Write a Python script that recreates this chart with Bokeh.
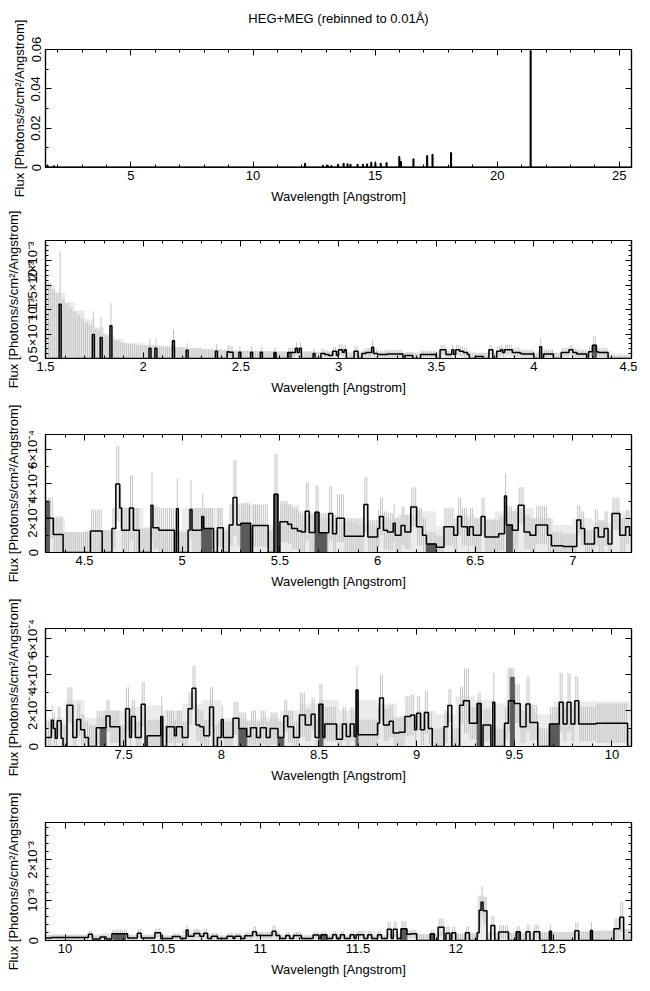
import numpy as np
from bokeh.plotting import figure
from bokeh.layouts import column
from bokeh.models import FixedTicker, CustomJSTickFormatter, LinearAxis, Range1d, Title
from bokeh.embed import file_html
from bokeh.resources import INLINE

TITLE = "HEG+MEG (rebinned to 0.01Å)"
X_LABEL = "Wavelength [Angstrom]"
Y_LABEL = "Flux [Photons/s/cm²/Angstrom]"
BIN = 0.01  # Angstrom

# All flux values are in units of 1e-4 photons/s/cm^2/Angstrom.

# ---------------- panel 1 : full range, strongest lines ----------------
p1_line_x = [1.57, 1.84, 12.12, 12.85, 13.05, 13.20, 13.47, 13.70, 13.86, 13.98, 14.27, 14.49,
             14.66, 14.83, 15.00, 15.22, 15.46, 15.98, 16.05, 16.56, 17.12, 17.34, 18.10, 21.36]
p1_line_y = [11, 7, 20, 10, 10, 9, 15, 20, 18, 15, 15, 15,
             17, 25, 22, 20, 24, 55, 29, 43, 60, 66, 75, 593]
p1_xticks = [5, 10, 15, 20, 25]
p1_yticks = [0, 200, 400, 600]
p1_ylabels = ["0", "0.02", "0.04", "0.06"]

# ---------------- panel 2 : 1.5 - 4.5 A  (start, flux, error top) ----------------
p2_bins = [(1.50, 0, 15.5), (1.53, 0, 14.2), (1.55, 0, 13.4), (1.57, 11.1, 22.0), (1.58, 0, 12.2),
           (1.60, 0, 11.3), (1.62, 0, 10.4), (1.64, 0, 9.6), (1.66, 0, 8.9), (1.68, 0, 8.2),
           (1.70, 0, 7.5), (1.72, 0, 6.9), (1.74, 4.9, 9.6), (1.75, 0, 6.1), (1.77, 0, 5.6),
           (1.78, 4.3, 8.4), (1.79, 0, 5.0), (1.81, 0, 4.5), (1.83, 6.7, 11.3), (1.84, 0, 4.0),
           (1.86, 0, 3.6), (1.88, 0, 3.3), (1.91, 0, 3.0), (1.95, 0, 2.8), (2.03, 2.1, 4.1),
           (2.04, 0, 2.7), (2.06, 2.1, 4.1), (2.07, 0, 2.5), (2.15, 3.6, 6.0), (2.16, 0, 2.3),
           (2.22, 1.7, 3.2), (2.23, 0, 2.1), (2.30, 0, 1.9), (2.37, 1.5, 2.9), (2.38, 0, 1.8),
           (2.43, 1.4, 2.7), (2.44, 1.3, 2.6), (2.46, 0, 1.6), (2.49, 1.3, 2.5), (2.50, 0, 1.6),
           (2.55, 1.3, 2.5), (2.56, 0, 1.5), (2.60, 1.3, 2.4), (2.61, 0, 1.5), (2.67, 1.2, 2.3),
           (2.68, 0, 1.4), (2.74, 1.2, 2.2), (2.78, 2.1, 3.3), (2.79, 1.2, 2.2), (2.80, 2.1, 3.3),
           (2.81, 0, 1.4), (2.87, 1.0, 2.0), (2.88, 0, 1.3), (2.91, 1.0, 2.0), (2.93, 0.8, 1.7),
           (2.95, 0.6, 1.4), (2.97, 1.5, 2.4), (2.99, 0.6, 1.4), (3.00, 1.8, 2.9), (3.02, 1.3, 2.3),
           (3.03, 1.8, 2.9), (3.04, 0, 1.2), (3.08, 1.5, 2.5), (3.10, 0, 1.2), (3.12, 1.0, 1.9),
           (3.14, 1.2, 2.2), (3.17, 2.3, 3.8), (3.18, 1.0, 1.9), (3.20, 0.8, 1.6), (3.25, 0.9, 1.8),
           (3.33, 0, 1.1), (3.34, 0.6, 1.3), (3.38, 0, 1.1), (3.42, 0.8, 1.6), (3.50, 0, 1.1),
           (3.52, 1.8, 2.8), (3.55, 0.8, 1.6), (3.58, 1.8, 2.8), (3.59, 0.8, 1.6), (3.60, 1.8, 2.8),
           (3.62, 1.5, 2.5), (3.64, 1.2, 2.2), (3.66, 0.8, 1.6), (3.67, 0, 1.1), (3.70, 0.4, 1.1),
           (3.74, 0, 1.1), (3.77, 1.8, 2.8), (3.79, 0, 1.1), (3.81, 1.5, 2.5), (3.83, 1.8, 2.8),
           (3.84, 1.2, 2.2), (3.85, 1.8, 2.8), (3.87, 1.8, 2.8), (3.89, 1.2, 2.2), (3.93, 1.0, 1.9),
           (3.94, 0.9, 1.8), (4.00, 0, 1.1), (4.03, 2.4, 4.0), (4.04, 0, 1.1), (4.05, 0.9, 1.8),
           (4.10, 0, 1.1), (4.14, 1.2, 2.2), (4.18, 1.8, 2.8), (4.20, 1.2, 2.2), (4.22, 0.9, 1.8),
           (4.27, 0, 1.1), (4.28, 1.4, 2.4), (4.30, 2.7, 4.5), (4.32, 1.4, 2.4), (4.33, 1.2, 2.2),
           (4.38, 0, 0.6)]
p2_meg = [(2.67, 2.68, 1.2), (2.74, 2.76, 1.0), (4.30, 4.32, 2.7)]
p2_env_x = [1.50, 1.55, 1.60, 1.65, 1.70, 1.75, 1.80, 1.85, 1.90, 2.0, 2.1, 2.2, 2.3, 2.4, 2.5, 2.6, 2.7,
            2.8, 2.9, 3.0, 3.1, 3.2, 3.3, 3.4, 3.5, 3.6, 3.7, 3.8, 3.9, 4.0, 4.1, 4.2, 4.3, 4.4]
p2_env_y = [15.0, 13.5, 11.5, 9.8, 8.0, 6.4, 5.0, 4.0, 3.2, 2.7, 2.4, 2.1, 1.9, 1.7, 1.6, 1.5, 1.5,
            1.5, 1.4, 1.4, 1.5, 1.3, 1.3, 1.3, 1.3, 1.5, 1.3, 1.5, 1.4, 1.5, 1.3, 1.4, 1.6, 1.0]
p2_xticks = [1.5, 2, 2.5, 3, 3.5, 4, 4.5]
p2_yticks = [0, 5, 10, 15, 20]
p2_ylabels = ["0", "5×10⁻⁴", "10⁻³", "1.5×10⁻³", "2×10⁻³"]

# ---------------- panel 3 : 4.3 - 7.3 A ----------------
p3_bins = [(4.30, 2.0, 3.2), (4.34, 1.05, 2.1), (4.39, 0, 1.2), (4.53, 1.26, 2.5), (4.59, 0, 1.3),
           (4.64, 1.4, 2.6), (4.66, 4.0, 6.2), (4.68, 2.6, 3.8), (4.69, 1.3, 2.6), (4.73, 2.6, 4.5),
           (4.75, 1.3, 2.6), (4.78, 0, 1.4), (4.84, 2.75, 4.7), (4.85, 1.45, 2.7), (4.88, 1.3, 2.6),
           (4.96, 0, 1.2), (4.97, 2.55, 4.3), (4.98, 0, 1.2), (5.03, 1.3, 2.6), (5.04, 2.5, 4.2),
           (5.05, 1.3, 2.6), (5.10, 2.1, 3.4), (5.11, 1.4, 2.6), (5.16, 0, 1.3), (5.18, 1.45, 2.6),
           (5.21, 0, 1.3), (5.24, 1.6, 2.8), (5.26, 3.2, 5.4), (5.28, 1.6, 2.8), (5.30, 1.7, 2.9),
           (5.35, 0, 1.3), (5.36, 1.57, 2.8), (5.44, 0, 1.3), (5.47, 3.4, 5.75), (5.49, 0, 1.3),
           (5.50, 1.8, 3.0), (5.52, 1.8, 3.0), (5.54, 1.65, 2.8), (5.56, 1.4, 2.6), (5.59, 1.25, 2.4),
           (5.61, 1.2, 2.4), (5.63, 2.4, 4.1), (5.65, 1.16, 2.3), (5.68, 2.35, 3.9), (5.70, 1.15, 2.3),
           (5.75, 2.27, 3.85), (5.77, 1.1, 2.2), (5.79, 2.0, 3.4), (5.83, 0.95, 2.0), (5.93, 2.8, 4.4),
           (5.95, 0.9, 1.9), (6.00, 1.4, 2.5), (6.01, 2.1, 3.2), (6.03, 1.3, 2.4), (6.05, 1.2, 2.3),
           (6.08, 1.7, 2.8), (6.09, 1.0, 2.0), (6.12, 1.57, 2.7), (6.14, 1.2, 2.2), (6.17, 2.65, 3.8),
           (6.20, 1.5, 2.6), (6.23, 1.0, 2.0), (6.25, 0.5, 1.2), (6.30, 0.3, 1.0), (6.34, 1.5, 2.6),
           (6.39, 1.0, 2.0), (6.41, 2.1, 3.2), (6.43, 1.5, 2.6), (6.46, 1.0, 2.0), (6.47, 1.5, 2.6),
           (6.49, 1.0, 2.0), (6.53, 2.1, 3.2), (6.55, 0.9, 1.9), (6.62, 1.1, 2.1), (6.65, 3.3, 4.6),
           (6.66, 1.6, 2.7), (6.69, 1.3, 2.4), (6.72, 2.75, 3.8), (6.75, 1.2, 2.2), (6.78, 1.0, 2.0),
           (6.81, 1.6, 2.7), (6.84, 1.6, 2.7), (6.87, 1.0, 2.0), (6.89, 0.4, 1.2), (6.95, 0.35, 1.1),
           (7.02, 1.9, 2.75), (7.04, 1.4, 2.4), (7.06, 0.5, 1.3), (7.11, 1.45, 2.5), (7.13, 0.9, 1.9),
           (7.16, 1.4, 2.4), (7.18, 0.5, 1.3), (7.20, 2.27, 3.2), (7.24, 1.0, 2.0), (7.27, 1.5, 2.5),
           (7.29, 1.0, 2.0)]
p3_meg = [(4.30, 4.32, 3.0), (5.10, 5.11, 2.1), (5.11, 5.15, 1.4), (5.30, 5.35, 1.7), (5.47, 5.49, 3.4),
          (5.68, 5.70, 2.35), (5.70, 5.74, 1.15), (6.25, 6.30, 0.5), (6.66, 6.69, 1.6)]
p3_env_x = [4.3, 4.4, 4.5, 4.6, 4.7, 4.8, 4.9, 5.0, 5.1, 5.2, 5.3, 5.4, 5.5, 5.6, 5.7,
            5.8, 5.9, 6.0, 6.1, 6.2, 6.3, 6.4, 6.5, 6.6, 6.7, 6.8, 6.9, 7.0, 7.1, 7.2]
p3_env_y = [2.0, 1.2, 1.3, 1.3, 2.6, 1.5, 1.3, 2.6, 2.6, 1.5, 2.8, 1.6, 2.8, 2.2, 2.0,
            1.8, 1.6, 2.0, 2.2, 2.4, 1.5, 2.2, 2.0, 2.4, 2.6, 2.0, 1.6, 2.0, 1.8, 2.4]
p3_xticks = [4.5, 5, 5.5, 6, 6.5, 7]
p3_yticks = [0, 2, 4, 6]
p3_ylabels = ["0", "2×10⁻⁴", "4×10⁻⁴", "6×10⁻⁴"]

# ---------------- panel 4 : 7.1 - 10.1 A ----------------
p4_bins = [(7.10, 0.5, 1.4), (7.13, 1.46, 2.3), (7.14, 1.0, 1.9), (7.15, 0.46, 1.3), (7.16, 1.43, 2.2),
           (7.18, 0.46, 1.3), (7.19, 0, 1.2), (7.21, 2.3, 3.3), (7.24, 0.5, 1.4), (7.26, 1.5, 2.4),
           (7.28, 0.93, 1.8), (7.30, 0.5, 1.4), (7.32, 0, 1.2), (7.36, 1.05, 2.0), (7.41, 1.7, 2.6),
           (7.43, 1.1, 2.0), (7.48, 0, 1.2), (7.51, 2.1, 3.3), (7.53, 0.5, 1.4), (7.54, 1.67, 2.6),
           (7.56, 0.5, 1.4), (7.59, 2.35, 3.6), (7.61, 0, 1.2), (7.62, 0.6, 1.5), (7.69, 1.67, 2.8),
           (7.70, 0, 1.2), (7.72, 1.1, 2.0), (7.76, 0.6, 1.5), (7.77, 1.1, 2.0), (7.80, 0.5, 1.4),
           (7.83, 2.1, 3.0), (7.85, 3.25, 4.5), (7.87, 1.2, 2.1), (7.89, 1.1, 2.0), (7.91, 0.6, 1.5),
           (7.94, 2.2, 3.3), (7.96, 0, 1.2), (7.98, 0.5, 1.4), (8.00, 1.5, 2.3), (8.01, 0.5, 1.4),
           (8.06, 1.57, 2.5), (8.09, 1.0, 1.9), (8.13, 0.55, 1.4), (8.15, 1.05, 2.0), (8.18, 0.5, 1.4),
           (8.20, 1.05, 2.0), (8.23, 0.5, 1.4), (8.25, 1.0, 1.9), (8.29, 0.5, 1.4), (8.32, 1.7, 2.6),
           (8.34, 1.1, 2.0), (8.37, 0.5, 1.4), (8.40, 1.76, 3.0), (8.43, 1.2, 2.1), (8.46, 1.8, 2.7),
           (8.48, 0.5, 1.4), (8.50, 2.35, 3.5), (8.52, 0.5, 1.4), (8.53, 1.25, 2.2), (8.59, 0.4, 1.3),
           (8.62, 1.25, 2.2), (8.64, 0.55, 1.4), (8.66, 1.25, 2.2), (8.68, 0.55, 1.4), (8.69, 3.15, 4.5),
           (8.70, 0.65, 1.5), (8.80, 1.3, 2.2), (8.81, 2.7, 4.0), (8.83, 1.2, 2.1), (8.86, 1.4, 2.3),
           (8.88, 0.75, 1.6), (8.91, 0.8, 1.7), (8.94, 1.67, 2.8), (8.97, 1.76, 2.9), (8.99, 0.93, 1.8),
           (9.00, 1.85, 2.8), (9.02, 0.93, 1.8), (9.04, 1.9, 3.1), (9.06, 1.0, 1.9), (9.08, 0, 1.0),
           (9.14, 1.1, 2.0), (9.16, 2.28, 3.2), (9.18, 0, 1.0), (9.22, 2.3, 3.3), (9.24, 2.55, 4.35),
           (9.27, 1.3, 2.2), (9.31, 2.4, 3.0), (9.33, 0, 1.0), (9.34, 1.2, 2.1), (9.38, 0, 1.0),
           (9.39, 2.46, 4.1), (9.40, 0, 1.0), (9.45, 1.3, 2.2), (9.47, 2.55, 4.35), (9.50, 2.4, 3.5),
           (9.53, 1.1, 2.0), (9.56, 2.37, 3.9), (9.58, 1.33, 2.3), (9.62, 0, 1.0), (9.68, 1.25, 2.2),
           (9.73, 2.46, 4.1), (9.75, 1.25, 2.2), (9.77, 2.46, 4.1), (9.79, 1.25, 2.2), (9.81, 2.55, 3.9),
           (9.83, 1.25, 2.2), (9.92, 1.3, 2.4), (10.08, 0, 1.0)]
p4_meg = [(7.38, 7.41, 1.05), (7.69, 7.70, 1.67), (8.09, 8.13, 1.0), (8.29, 8.32, 0.5), (8.50, 8.52, 2.35),
          (8.69, 8.70, 3.15), (9.31, 9.33, 2.4), (9.48, 9.50, 3.85), (9.68, 9.73, 1.25)]
p4_env_x = [7.1, 7.2, 7.3, 7.4, 7.5, 7.6, 7.7, 7.8, 7.9, 8.0, 8.1, 8.2, 8.3, 8.4, 8.5, 8.6,
            8.7, 8.8, 8.9, 9.0, 9.1, 9.2, 9.3, 9.4, 9.46, 9.50, 9.6, 9.7, 9.8, 9.9, 10.0]
p4_env_y = [1.6, 2.6, 1.6, 2.0, 2.2, 2.3, 2.0, 2.4, 2.6, 1.6, 1.5, 1.6, 2.0, 2.4, 2.6, 2.0,
            2.6, 2.4, 1.6, 2.0, 1.8, 2.8, 2.6, 2.4, 4.35, 2.4, 1.8, 2.5, 2.5, 2.5, 2.5]
p4_xticks = [7.5, 8, 8.5, 9, 9.5, 10]
p4_yticks = [0, 2, 4, 6]
p4_ylabels = ["0", "2×10⁻⁴", "4×10⁻⁴", "6×10⁻⁴"]

# ---------------- panel 5 : 9.9 - 12.9 A ----------------
p5_bins = [(9.90, 0.6, 1.4), (9.93, 0.75, 1.5), (10.12, 1.55, 2.4), (10.14, 0.4, 1.2), (10.18, 0.9, 1.6),
           (10.21, 0.4, 1.2), (10.24, 1.65, 2.7), (10.32, 0.6, 1.3), (10.37, 1.8, 2.9), (10.39, 0.6, 1.3),
           (10.46, 1.9, 3.0), (10.49, 0.5, 1.2), (10.55, 1.0, 1.8), (10.59, 0.5, 1.2), (10.62, 2.6, 3.8),
           (10.63, 1.05, 1.9), (10.66, 1.75, 2.9), (10.69, 1.05, 1.9), (10.71, 1.8, 2.9), (10.73, 0.5, 1.2),
           (10.75, 1.05, 1.9), (10.78, 0.5, 1.2), (10.83, 1.05, 1.9), (10.86, 0.5, 1.2), (10.87, 1.05, 1.9),
           (10.90, 0.5, 1.2), (10.92, 1.15, 2.0), (10.96, 2.15, 3.5), (10.98, 1.25, 2.1), (11.06, 2.3, 3.75),
           (11.08, 1.25, 2.1), (11.10, 0.5, 1.2), (11.13, 1.25, 2.1), (11.15, 0.5, 1.2), (11.17, 1.25, 2.1),
           (11.21, 0.5, 1.2), (11.27, 1.35, 2.2), (11.30, 0.5, 1.2), (11.31, 1.4, 2.3), (11.34, 0.5, 1.2),
           (11.37, 1.4, 2.3), (11.39, 0.5, 1.2), (11.41, 1.4, 2.3), (11.43, 0.5, 1.2), (11.46, 1.4, 2.3),
           (11.48, 0.5, 1.2), (11.49, 1.4, 2.3), (11.53, 0.5, 1.2), (11.55, 1.4, 2.3), (11.57, 0.5, 1.2),
           (11.60, 1.4, 2.3), (11.62, 0.5, 1.2), (11.65, 2.8, 4.6), (11.67, 0.5, 1.2), (11.68, 2.8, 4.7),
           (11.70, 0.5, 1.2), (11.72, 2.9, 4.8), (11.75, 1.55, 2.5), (11.77, 1.65, 2.6), (11.80, 0, 1.6),
           (11.87, 1.65, 2.6), (11.89, 0, 1.6), (11.91, 3.3, 5.5), (11.94, 0, 1.6), (11.95, 1.8, 3.5),
           (11.97, 0, 1.6), (11.98, 1.9, 3.4), (12.00, 0, 1.7), (12.05, 1.9, 3.5), (12.07, 0, 1.8),
           (12.11, 1.9, 3.0), (12.12, 7.5, 11.25), (12.13, 9.5, 13.5), (12.14, 7.4, 10.8), (12.16, 0, 2.0),
           (12.18, 3.75, 6.2), (12.20, 0, 1.9), (12.22, 2.1, 3.8), (12.27, 0, 1.9), (12.31, 2.15, 3.6),
           (12.33, 0, 1.9), (12.36, 2.15, 4.0), (12.38, 0, 1.9), (12.40, 2.15, 3.9), (12.43, 0, 2.0),
           (12.48, 2.3, 3.9), (12.49, 0, 2.1), (12.61, 2.4, 4.5), (12.63, 0, 2.2), (12.69, 2.5, 4.6),
           (12.70, 0, 2.4), (12.81, 2.9, 5.5), (12.84, 5.8, 9.6), (12.86, 0, 2.8)]
p5_meg = [(10.25, 10.31, 1.65), (11.31, 11.34, 1.4), (11.72, 11.75, 2.9), (11.87, 11.89, 1.65),
          (12.31, 12.33, 2.15), (12.48, 12.49, 2.3), (12.69, 12.70, 2.5)]
p5_env_x = [9.9, 10.0, 10.1, 10.2, 10.3, 10.4, 10.5, 10.6, 10.7, 10.8, 10.9, 11.0, 11.1, 11.2, 11.3, 11.4,
            11.5, 11.6, 11.7, 11.8, 11.9, 12.0, 12.1, 12.11, 12.16, 12.2, 12.3, 12.4, 12.5, 12.6, 12.7, 12.8]
p5_env_y = [1.4, 1.3, 1.5, 2.0, 1.5, 1.6, 1.4, 2.6, 1.8, 1.4, 1.8, 2.0, 1.6, 1.5, 1.8, 1.5,
            2.5, 1.6, 2.0, 1.6, 2.2, 1.8, 2.0, 11.0, 2.0, 2.0, 2.1, 2.1, 2.2, 2.3, 2.5, 2.8]
p5_xticks = [10, 10.5, 11, 11.5, 12, 12.5]
p5_yticks = [0, 10, 20]
p5_ylabels = ["0", "10⁻³", "2×10⁻³"]

FONT = "Liberation Sans"
FS = "13px"
LIGHT = "#ebebeb"
ERRC = "#c4c4c4"
DARK = "#5a5a5a"


def style_axis(ax, standoff=4):
    ax.axis_line_color = "black"
    ax.axis_line_width = 1.2
    ax.major_tick_in = 6
    ax.major_tick_out = 0
    ax.minor_tick_in = 3
    ax.minor_tick_out = 0
    ax.major_tick_line_color = "black"
    ax.minor_tick_line_color = "black"
    ax.major_label_text_font = FONT
    ax.major_label_text_font_size = FS
    ax.major_label_text_color = "black"
    ax.axis_label_text_font = FONT
    ax.axis_label_text_font_size = FS
    ax.axis_label_text_font_style = "normal"
    ax.axis_label_text_color = "black"
    ax.major_label_standoff = standoff


def make_fig(xr, ytop, xticks, xminor, yticks, ylabels, yminor, top_border, bottom_border):
    p = figure(frame_width=586, frame_height=118,
               x_range=Range1d(xr[0], xr[1]), y_range=Range1d(0, ytop),
               output_backend="svg", toolbar_location=None,
               min_border_left=45, min_border_right=6,
               min_border_top=top_border, min_border_bottom=bottom_border,
               x_axis_label=X_LABEL, y_axis_label=Y_LABEL)
    p.grid.visible = False
    p.outline_line_color = "black"
    p.outline_line_width = 1.2
    p.background_fill_color = "white"
    p.border_fill_color = "white"
    xt = FixedTicker(ticks=xticks, minor_ticks=xminor)
    yt = FixedTicker(ticks=yticks, minor_ticks=yminor)
    xa = p.xaxis[0]
    ya = p.yaxis[0]
    xa.ticker = xt
    ya.ticker = yt
    xa.formatter = CustomJSTickFormatter(code="return String(Number(tick.toFixed(3)));")
    ya.major_label_overrides = dict(zip(yticks, ylabels))
    ya.major_label_orientation = "vertical"
    style_axis(xa, 3)
    style_axis(ya, 5)
    xa.axis_label_standoff = 6
    ya.axis_label_standoff = 2
    top = LinearAxis(ticker=xt, formatter=CustomJSTickFormatter(code="return '';"))
    right = LinearAxis(ticker=yt, formatter=CustomJSTickFormatter(code="return '';"))
    for ax in (top, right):
        style_axis(ax, 0)
        ax.major_label_text_font_size = "1px"
    p.add_layout(top, "above")
    p.add_layout(right, "right")
    return p


def draw_spectrum(p, x_end, bins, meg, env_x, env_y):
    bx = [b[0] for b in bins]
    by = [b[1] for b in bins]
    be = [b[2] for b in bins]
    # MEG error envelope (light fill)
    p.varea_step(x=env_x + [x_end], y1=[0] * (len(env_x) + 1), y2=env_y + [env_y[-1]],
                 step_mode="after", fill_color=LIGHT)
    # per-bin error bars
    edges = bx + [x_end]
    xs, lo, hi = [], [], []
    for i in range(len(bx)):
        n = int(round((edges[i + 1] - edges[i]) / BIN))
        for k in range(n):
            xs.append(edges[i] + (k + 0.5) * BIN)
            lo.append(max(0.0, 2 * by[i] - be[i]) if by[i] > 0 else 0.0)
            hi.append(be[i])
    p.segment(x0=xs, y0=lo, x1=xs, y1=hi, line_color=ERRC, line_width=1)
    # MEG histogram bins
    p.quad(left=[m[0] for m in meg], right=[m[1] for m in meg], bottom=0, top=[m[2] for m in meg],
           fill_color=DARK, line_color=DARK, line_width=1)
    # HEG histogram
    p.step(x=edges, y=by + [by[-1]], mode="after", line_color="black", line_width=1.5)


def minors(a, b, step):
    n = int(round((b - a) / step))
    return [round(a + i * step, 4) for i in range(n + 1)]


# panel 1
f1 = make_fig((1.5, 25.5), 600, p1_xticks, minors(2, 25, 1), p1_yticks, p1_ylabels,
              minors(0, 600, 100), 49, 38)
spacer = Title(text=" ", text_font=FONT, text_font_size="20px", standoff=0)
f1.add_layout(spacer, "above")
f1.add_layout(Title(text=TITLE, align="center", text_font=FONT, text_font_size=FS,
                    text_font_style="normal", text_color="black", standoff=0), "above")
s1x, s1y = [1.5], [0]
for lx, ly in zip(p1_line_x, p1_line_y):
    s1x += [lx, lx + 0.02]
    s1y += [ly, 0]
s1x.append(25.5)
s1y.append(0)
f1.step(x=s1x, y=s1y, mode="after", line_color="black", line_width=1.6)
f1.segment(x0=[1.5], y0=[0], x1=[25.5], y1=[0], line_color="black", line_width=2)

# panel 2
f2 = make_fig((1.5, 4.5), 24.1, p2_xticks, minors(1.5, 4.5, 0.1), p2_yticks, p2_ylabels,
              minors(0, 24, 1), 34, 42)
draw_spectrum(f2, 4.5, p2_bins, p2_meg, p2_env_x, p2_env_y)

# panel 3
f3 = make_fig((4.3, 7.3), 6.88, p3_xticks, minors(4.3, 7.3, 0.1), p3_yticks, p3_ylabels,
              minors(0, 6, 1), 34, 42)
draw_spectrum(f3, 7.3, p3_bins, p3_meg, p3_env_x, p3_env_y)

# panel 4
f4 = make_fig((7.1, 10.1), 6.57, p4_xticks, minors(7.1, 10.1, 0.1), p4_yticks, p4_ylabels,
              minors(0, 6, 1), 34, 42)
draw_spectrum(f4, 10.1, p4_bins, p4_meg, p4_env_x, p4_env_y)

# panel 5
f5 = make_fig((9.9, 12.9), 29.3, p5_xticks, minors(9.9, 12.9, 0.1), p5_yticks, p5_ylabels,
              minors(0, 28, 2), 34, 42)
draw_spectrum(f5, 12.9, p5_bins, p5_meg, p5_env_x, p5_env_y)

layout = column(f1, f2, f3, f4, f5, spacing=0)
open("out.html", "w").write(file_html(layout, INLINE))
